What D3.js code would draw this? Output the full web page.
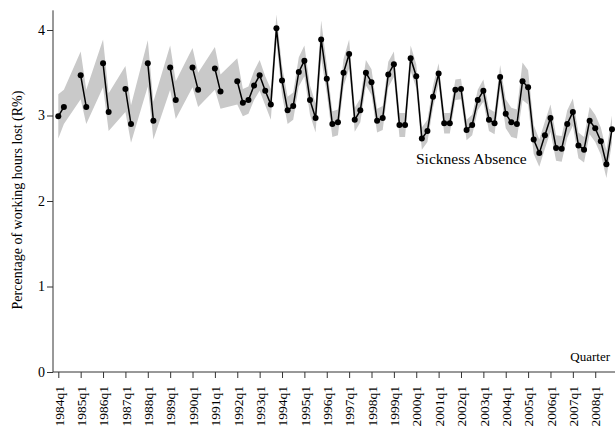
<!DOCTYPE html>
<html>
<head>
<meta charset="utf-8">
<script src="https://cdn.jsdelivr.net/npm/d3@7"></script>
<style>
  body { margin: 0; background: #fff; }
  text { font-family: "Liberation Serif", "DejaVu Serif", serif; fill: #000; }
</style>
</head>
<body>
<svg id="chart" width="615" height="430"></svg>
<script>
// Years on the axis, one tick per first quarter
var years = [1984, 1985, 1986, 1987, 1988, 1989, 1990, 1991, 1992, 1993, 1994, 1995, 1996,
             1997, 1998, 1999, 2000, 2001, 2002, 2003, 2004, 2005, 2006, 2007, 2008];

// Sickness absence rate per quarter (q1..q4), null = not observed
var rate = [
  [2.99, 3.10, null, null],
  [3.47, 3.10, null, null],
  [3.61, 3.04, null, null],
  [3.31, 2.90, null, null],
  [3.61, 2.94, null, null],
  [3.56, 3.18, null, null],
  [3.56, 3.30, null, null],
  [3.55, 3.28, null, null],
  [3.40, 3.15, 3.18, 3.35],
  [3.47, 3.29, 3.13, 4.02],
  [3.41, 3.06, 3.11, 3.51],
  [3.64, 3.18, 2.97, 3.89],
  [3.43, 2.90, 2.92, 3.50],
  [3.72, 2.95, 3.06, 3.50],
  [3.39, 2.94, 2.97, 3.48],
  [3.60, 2.89, 2.89, 3.67],
  [3.46, 2.73, 2.82, 3.22],
  [3.49, 2.91, 2.91, 3.30],
  [3.31, 2.83, 2.89, 3.18],
  [3.29, 2.95, 2.91, 3.45],
  [3.02, 2.92, 2.90, 3.40],
  [3.33, 2.72, 2.56, 2.77],
  [2.97, 2.62, 2.61, 2.90],
  [3.04, 2.65, 2.60, 2.94],
  [2.85, 2.70, 2.43, 2.84]
];

// Half width of the confidence band per quarter
var ciHalf = [
  [0.26, 0.20, null, null],
  [0.28, 0.20, null, null],
  [0.28, 0.22, null, null],
  [0.27, 0.22, null, null],
  [0.27, 0.22, null, null],
  [0.26, 0.22, null, null],
  [0.23, 0.20, null, null],
  [0.25, 0.20, null, null],
  [0.27, 0.16, 0.16, 0.17],
  [0.18, 0.17, 0.18, 0.16],
  [0.17, 0.16, 0.16, 0.17],
  [0.18, 0.17, 0.17, 0.22],
  [0.17, 0.15, 0.15, 0.16],
  [0.17, 0.14, 0.14, 0.15],
  [0.15, 0.14, 0.14, 0.15],
  [0.15, 0.14, 0.14, 0.15],
  [0.14, 0.13, 0.13, 0.13],
  [0.12, 0.12, 0.12, 0.12],
  [0.12, 0.12, 0.12, 0.12],
  [0.13, 0.13, 0.13, 0.14],
  [0.17, 0.17, 0.17, 0.22],
  [0.20, 0.17, 0.16, 0.16],
  [0.16, 0.15, 0.15, 0.16],
  [0.16, 0.15, 0.15, 0.16],
  [0.16, 0.16, 0.16, 0.16]
];

var yTicks = [0, 1, 2, 3, 4];

// flatten into one record per quarter
var points = [];
years.forEach(function(yr, i) {
  for (var q = 0; q < 4; q++) {
    points.push({ idx: i * 4 + q, v: rate[i][q], h: ciHalf[i][q] });
  }
});
var observed = points.filter(function(d) { return d.v != null; });

var svg = d3.select("#chart");

var x = d3.scaleLinear()
  .domain([0, years.length * 4 - 1])
  .range([58.3, 612]);

var y = d3.scaleLinear()
  .domain([0, 4])
  .range([372, 30]);

// confidence band (connects across the gaps)
var band = d3.area()
  .x(function(d) { return x(d.idx); })
  .y0(function(d) { return y(d.v - d.h); })
  .y1(function(d) { return y(d.v + d.h); });

svg.append("path")
  .datum(observed)
  .attr("d", band)
  .attr("fill", "#c9c9c9");

// series line, broken where a quarter is missing
var line = d3.line()
  .defined(function(d) { return d.v != null; })
  .x(function(d) { return x(d.idx); })
  .y(function(d) { return y(d.v); });

svg.append("path")
  .datum(points)
  .attr("d", line)
  .attr("fill", "none")
  .attr("stroke", "#000")
  .attr("stroke-width", 1.5);

svg.selectAll(".dot")
  .data(observed)
  .enter()
  .append("circle")
  .attr("class", "dot")
  .attr("cx", function(d) { return x(d.idx); })
  .attr("cy", function(d) { return y(d.v); })
  .attr("r", 3)
  .attr("fill", "#000");

// y axis
var yAxis = svg.append("g")
  .attr("transform", "translate(53,0)")
  .call(d3.axisLeft(y).tickValues(yTicks).tickFormat(d3.format("d")).tickSize(6).tickSizeOuter(0));
yAxis.select(".domain").attr("d", "M0," + y(4.23) + "V" + y(0)).attr("stroke", "#333");
yAxis.selectAll(".tick line").attr("stroke", "#333");
yAxis.selectAll(".tick text")
  .attr("font-size", 14)
  .attr("x", -8);

// x axis
var xAxis = svg.append("g")
  .attr("transform", "translate(0,372)")
  .call(d3.axisBottom(x)
    .tickValues(years.map(function(yr, i) { return i * 4; }))
    .tickFormat(function(d) { return years[d / 4] + "q1"; })
    .tickSize(6)
    .tickSizeOuter(0));
xAxis.select(".domain").attr("d", "M53,0H615").attr("stroke", "#333");
xAxis.selectAll(".tick line").attr("stroke", "#333");
xAxis.selectAll(".tick text")
  .attr("font-size", 13.5)
  .attr("transform", "rotate(-90)")
  .attr("x", -14)
  .attr("y", 0)
  .attr("dy", "0.35em")
  .style("text-anchor", "end");

// labels
svg.append("text")
  .attr("transform", "translate(22,200) rotate(-90)")
  .attr("text-anchor", "middle")
  .attr("font-size", 14)
  .text("Percentage of working hours lost (R%)");

svg.append("text")
  .attr("x", 416)
  .attr("y", 164)
  .attr("font-size", 15.5)
  .text("Sickness Absence");

svg.append("text")
  .attr("x", 610)
  .attr("y", 361)
  .attr("text-anchor", "end")
  .attr("font-size", 13)
  .text("Quarter");
</script>
</body>
</html>
